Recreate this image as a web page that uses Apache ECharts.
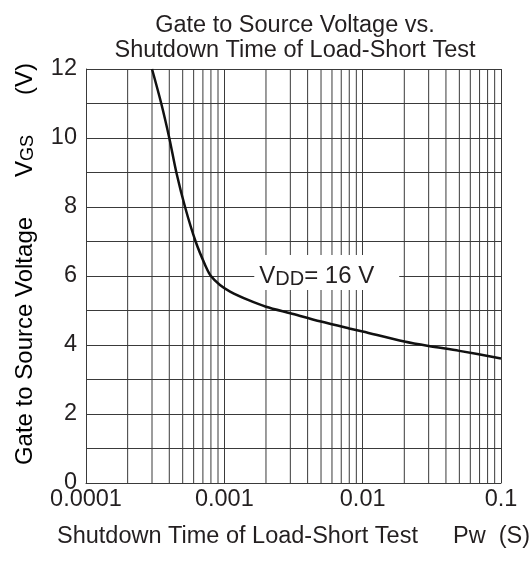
<!DOCTYPE html>
<html>
<head>
<meta charset="utf-8">
<script src="https://cdn.jsdelivr.net/npm/echarts@6/dist/echarts.min.js"></script>
<style>html,body{margin:0;padding:0;background:#fff}#c{width:532px;height:563px}</style>
</head>
<body>
<div id="c"></div>
<script>
const titleLines = ['Gate to Source Voltage vs.', 'Shutdown Time of Load-Short Test'];
const pwSeconds = [0.0003, 0.00035, 0.0004, 0.00045, 0.00052, 0.00062, 0.00073, 0.0008, 0.00093, 0.0011, 0.0015, 0.002, 0.003, 0.005, 0.008, 0.01, 0.02, 0.03, 0.05, 0.1];
const vgsVolts = [12, 11, 10, 9, 8, 7, 6.3, 6.0, 5.74, 5.55, 5.3, 5.11, 4.92, 4.68, 4.48, 4.39, 4.10, 3.97, 3.83, 3.61];
const xTickLabels = ['0.0001', '0.001', '0.01', '0.1'];
const decadeStarts = [0.0001, 0.001, 0.01];
const minorMultipliers = [2, 3, 4, 5, 6, 7, 8, 9];
const yRange = [0, 12];
const labelPoint = [0.0055, 6.1];

const minorXLines = [];
decadeStarts.forEach(d => minorMultipliers.forEach(k => minorXLines.push(+(d * k).toPrecision(3))));
const minorLineData = [];
minorXLines.forEach(v => { minorLineData.push([v, yRange[0]], [v, yRange[1]], [v, '-']); });

const FONT = 'Liberation Sans, Arial, sans-serif';
const TXT = '#231f20';
const GRID = '#3a3a3a';
const FS = 23.5;
const chart = echarts.init(document.getElementById('c'), null, {renderer: 'canvas'});
chart.setOption({
  animation: false,
  backgroundColor: '#fff',
  title: {
    text: titleLines.join('\n'),
    left: 290, textAlign: 'center', top: 8,
    textStyle: {fontFamily: FONT, fontSize: FS, fontWeight: 'normal', color: TXT, lineHeight: 25}
  },
  grid: {left: 86, right: 31, top: 69, bottom: 80, containLabel: false},
  xAxis: {
    type: 'log', logBase: 10, min: 0.0001, max: 0.1,
    axisLine: {show: true, lineStyle: {color: GRID, width: 1}},
    axisTick: {show: false},
    splitLine: {show: true, lineStyle: {color: GRID, width: 1}},
    axisLabel: {fontFamily: FONT, fontSize: FS, color: TXT, margin: 5,
      formatter: v => { const s = xTickLabels.find(t => Math.abs(parseFloat(t) - v) / v < 1e-6); return s || ''; }}
  },
  yAxis: {
    type: 'value', min: yRange[0], max: yRange[1], interval: 1,
    axisLine: {show: true, lineStyle: {color: GRID, width: 1}},
    axisTick: {show: false},
    splitLine: {show: true, lineStyle: {color: GRID, width: 1}},
    axisLabel: {fontFamily: FONT, fontSize: FS, color: TXT, margin: 9,
      formatter: v => (v % 2 === 0 ? String(v) : '')}
  },
  graphic: [
    {type: 'text', x: 57, y: 537,
      style: {text: 'Shutdown Time of Load-Short Test', font: FS + 'px ' + FONT, fill: TXT, verticalAlign: 'middle'}},
    {type: 'text', x: 453, y: 537,
      style: {text: 'Pw', font: FS + 'px ' + FONT, fill: TXT, verticalAlign: 'middle'}},
    {type: 'text', x: 530, y: 537,
      style: {text: '(S)', font: FS + 'px ' + FONT, fill: TXT, align: 'right', verticalAlign: 'middle'}},
    {type: 'text', x: 12, y: 264, rotation: Math.PI / 2,
      style: {text: '{a|Gate to Source Voltage      V}{s|GS}{a|      (V)}', align: 'center', verticalAlign: 'top',
        rich: {a: {fontFamily: FONT, fontSize: 24, color: TXT, lineHeight: 26},
               s: {fontFamily: FONT, fontSize: 18, color: TXT, lineHeight: 26, padding: [7, 0, 0, 0]}}}}
  ],
  series: [
    {
      type: 'line',
      data: minorLineData,
      showSymbol: false,
      connectNulls: false,
      silent: true,
      lineStyle: {color: GRID, width: 1},
      z: 1
    },
    {
      type: 'line',
      data: pwSeconds.map((t, i) => [t, vgsVolts[i]]),
      smooth: 0.3,
      showSymbol: false,
      lineStyle: {color: '#111', width: 2.5},
      z: 5,
      markPoint: {
        symbolSize: 0,
        data: [{coord: labelPoint}],
        label: {
          show: true, position: 'inside',
          formatter: '{a|V}{s|DD}{a|= 16 V}',
          backgroundColor: '#fff', padding: [8, 25, 1, 5],
          rich: {a: {fontFamily: FONT, fontSize: 24, color: TXT, lineHeight: 26},
                 s: {fontFamily: FONT, fontSize: 20, color: TXT, lineHeight: 26, padding: [6, 0, 0, 0]}}
        }
      }
    }
  ]
});
</script>
</body>
</html>
